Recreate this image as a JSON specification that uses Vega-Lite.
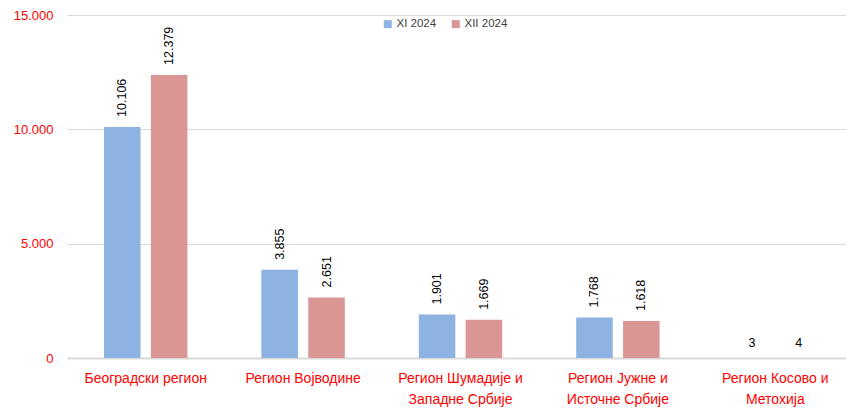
{
  "$schema": "https://vega.github.io/schema/vega-lite/v6.json",
  "autosize": "none",
  "width": 787,
  "height": 343,
  "padding": {"left": 67, "top": 15, "right": 0, "bottom": 50},
  "background": "white",
  "config": {
    "locale": {"number": {"decimal": ",", "thousands": ".", "grouping": [3], "currency": ["", ""]}},
    "view": {"stroke": null},
    "font": "Liberation Sans"
  },
  "data": {
    "values": [
      {"region": "Београдски регион", "period": "XI 2024", "value": 10106},
      {"region": "Београдски регион", "period": "XII 2024", "value": 12379},
      {"region": "Регион Војводине", "period": "XI 2024", "value": 3855},
      {"region": "Регион Војводине", "period": "XII 2024", "value": 2651},
      {"region": "Регион Шумадије и Западне Србије", "period": "XI 2024", "value": 1901},
      {"region": "Регион Шумадије и Западне Србије", "period": "XII 2024", "value": 1669},
      {"region": "Регион Јужне и Источне Србије", "period": "XI 2024", "value": 1768},
      {"region": "Регион Јужне и Источне Србије", "period": "XII 2024", "value": 1618},
      {"region": "Регион Косово и Метохија", "period": "XI 2024", "value": 3},
      {"region": "Регион Косово и Метохија", "period": "XII 2024", "value": 4}
    ]
  },
  "encoding": {
    "x": {
      "field": "region", "type": "nominal", "sort": null,
      "scale": {"paddingInner": 0.47, "paddingOuter": 0.235},
      "axis": {
        "title": null, "labelAngle": 0, "ticks": false,
        "domainColor": "#d9d9d9", "domainWidth": 2,
        "labelColor": "#ff0000", "labelFontSize": 14, "labelPadding": 13,
        "labelLineHeight": 21, "labelBaseline": "top",
        "labelExpr": "indexof(datum.label, ' и ') > 0 ? [substring(datum.label, 0, indexof(datum.label, ' и ') + 2), substring(datum.label, indexof(datum.label, ' и ') + 3)] : datum.label"
      }
    },
    "xOffset": {"field": "period", "type": "nominal", "scale": {"paddingInner": 0.22}},
    "y": {
      "field": "value", "type": "quantitative",
      "scale": {"domain": [0, 15000], "nice": false},
      "axis": {
        "title": null, "values": [0, 5000, 10000, 15000], "format": ",.0f",
        "domain": false, "ticks": false, "labelPadding": 14,
        "labelColor": "#ff0000", "labelFontSize": 13,
        "gridColor": "#d9d9d9", "gridWidth": 1
      }
    }
  },
  "layer": [
    {
      "mark": {"type": "bar"},
      "encoding": {
        "color": {
          "field": "period", "type": "nominal",
          "scale": {"domain": ["XI 2024", "XII 2024"], "range": ["#8db3e2", "#d99694"]},
          "legend": {
            "title": null, "orient": "none", "direction": "horizontal",
            "legendX": 315, "legendY": 3, "symbolType": "square",
            "symbolSize": 64, "symbolStrokeWidth": 0, "labelFontSize": 11.5, "labelColor": "#404040",
            "columnPadding": 13, "labelOffset": 3
          }
        }
      }
    },
    {
      "transform": [{"filter": "datum.value >= 100"}],
      "mark": {"type": "text", "angle": 270, "align": "left", "baseline": "middle", "dx": 10, "fontSize": 12.5, "color": "#000000"},
      "encoding": {"text": {"field": "value", "type": "quantitative", "format": ","}}
    },
    {
      "transform": [{"filter": "datum.value < 100"}],
      "mark": {"type": "text", "align": "center", "baseline": "bottom", "dy": -8, "fontSize": 12.5, "color": "#000000"},
      "encoding": {"text": {"field": "value", "type": "quantitative", "format": ","}}
    }
  ]
}
